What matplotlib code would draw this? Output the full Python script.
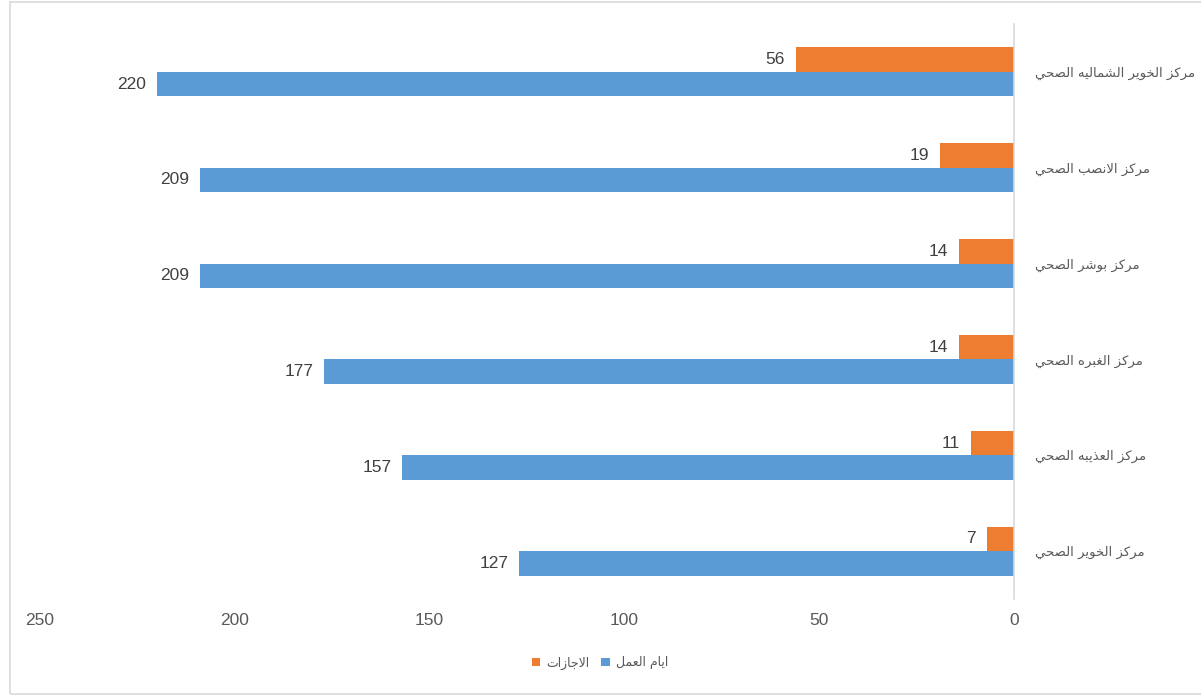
import matplotlib
matplotlib.use('Agg')
import matplotlib.pyplot as plt
from matplotlib.patches import Rectangle
import numpy as np

# data (top to bottom as in the chart)
centers = ['مركز الخوير الشماليه الصحي', 'مركز الانصب الصحي', 'مركز بوشر الصحي',
           'مركز الغبره الصحي', 'مركز العذيبه الصحي', 'مركز الخوير الصحي']
leave_days = [56, 19, 14, 14, 11, 7]
work_days = [220, 209, 209, 177, 157, 127]
series_names = ['الاجازات', 'ايام العمل']
xticks = [0, 50, 100, 150, 200, 250]

# simple arabic shaping (presentation forms) since matplotlib has no bidi/shaping
# isolated, final, initial, medial
FORMS = {
    'ا': ('\uFE8D', '\uFE8E', None, None),
    'ب': ('\uFE8F', '\uFE90', '\uFE91', '\uFE92'),
    'ت': ('\uFE95', '\uFE96', '\uFE97', '\uFE98'),
    'ج': ('\uFE9D', '\uFE9E', '\uFE9F', '\uFEA0'),
    'ح': ('\uFEA1', '\uFEA2', '\uFEA3', '\uFEA4'),
    'خ': ('\uFEA5', '\uFEA6', '\uFEA7', '\uFEA8'),
    'د': ('\uFEA9', '\uFEAA', None, None),
    'ذ': ('\uFEAB', '\uFEAC', None, None),
    'ر': ('\uFEAD', '\uFEAE', None, None),
    'ز': ('\uFEAF', '\uFEB0', None, None),
    'س': ('\uFEB1', '\uFEB2', '\uFEB3', '\uFEB4'),
    'ش': ('\uFEB5', '\uFEB6', '\uFEB7', '\uFEB8'),
    'ص': ('\uFEB9', '\uFEBA', '\uFEBB', '\uFEBC'),
    'ع': ('\uFEC9', '\uFECA', '\uFECB', '\uFECC'),
    'غ': ('\uFECD', '\uFECE', '\uFECF', '\uFED0'),
    'ك': ('\uFED9', '\uFEDA', '\uFEDB', '\uFEDC'),
    'ل': ('\uFEDD', '\uFEDE', '\uFEDF', '\uFEE0'),
    'م': ('\uFEE1', '\uFEE2', '\uFEE3', '\uFEE4'),
    'ن': ('\uFEE5', '\uFEE6', '\uFEE7', '\uFEE8'),
    'ه': ('\uFEE9', '\uFEEA', '\uFEEB', '\uFEEC'),
    'و': ('\uFEED', '\uFEEE', None, None),
    'ي': ('\uFEF1', '\uFEF2', '\uFEF3', '\uFEF4'),
}


def shape(text):
    out = []
    i = 0
    while i < len(text):
        c = text[i]
        if c not in FORMS:
            out.append(c)
            i += 1
            continue
        prev = text[i - 1] if i > 0 else None
        join_prev = prev in FORMS and FORMS[prev][2] is not None
        if c == 'ل' and i + 1 < len(text) and text[i + 1] == 'ا':
            out.append('\uFEFC' if join_prev else '\uFEFB')
            i += 2
            continue
        nxt = text[i + 1] if i + 1 < len(text) else None
        join_next = FORMS[c][2] is not None and nxt in FORMS
        f = FORMS[c]
        if join_prev and join_next:
            out.append(f[3])
        elif join_prev:
            out.append(f[1])
        elif join_next:
            out.append(f[2])
        else:
            out.append(f[0])
        i += 1
    return ''.join(reversed(out))


plt.rcParams['font.family'] = ['Liberation Sans Narrow', 'Liberation Sans', 'DejaVu Sans']
txt_color = '#595959'
orange = '#ED7D31'
blue = '#5B9BD5'

fig = plt.figure(figsize=(12.01, 6.96), dpi=100)
ax = fig.add_axes([40 / 1201, 1 - 599 / 696, (1014 - 40) / 1201, (599 - 24) / 696])

n = len(centers)
y = np.arange(n)[::-1]
h = 0.255
b1 = ax.barh(y + h / 2, leave_days, height=h, color=orange, label=shape(series_names[0]))
b2 = ax.barh(y - h / 2, work_days, height=h, color=blue, label=shape(series_names[1]))

for bars, vals in ((b1, leave_days), (b2, work_days)):
    for bar, v in zip(bars, vals):
        ax.annotate(str(v), (v, bar.get_y() + bar.get_height() / 2),
                    xytext=(-11, 0), textcoords='offset pixels',
                    ha='right', va='center', fontsize=12.5, color='#404040')

ax.set_xlim(250, 0)
ax.set_ylim(-0.5, n - 0.5)
ax.set_xticks(xticks)
ax.set_xticklabels([str(t) for t in xticks], fontsize=12.5, color=txt_color)
ax.yaxis.tick_right()
ax.set_yticks(y)
ax.set_yticklabels([shape(c) for c in centers], fontsize=9.5, color=txt_color,
                   family=['DejaVu Sans'])
ax.tick_params(axis='both', length=0)
ax.tick_params(axis='y', pad=15)
ax.tick_params(axis='x', pad=10)

for s in ['top', 'left', 'bottom']:
    ax.spines[s].set_visible(False)
ax.spines['right'].set_color('#D9D9D9')
ax.spines['right'].set_linewidth(1.2)

leg = fig.legend(handles=[b1, b2], loc='center', bbox_to_anchor=(600 / 1201, 1 - 663 / 696),
                 ncol=2, frameon=False, handlelength=0.7, handleheight=0.7,
                 handletextpad=0.5, columnspacing=0.9, prop={'family': 'DejaVu Sans', 'size': 9})
for t in leg.get_texts():
    t.set_color(txt_color)

fig.patches.append(Rectangle((10 / 1201, 2 / 696), 1.0, 692 / 696, transform=fig.transFigure,
                             fill=False, edgecolor='#D9D9D9', linewidth=1.2))

plt.savefig('out.png', dpi=100)
